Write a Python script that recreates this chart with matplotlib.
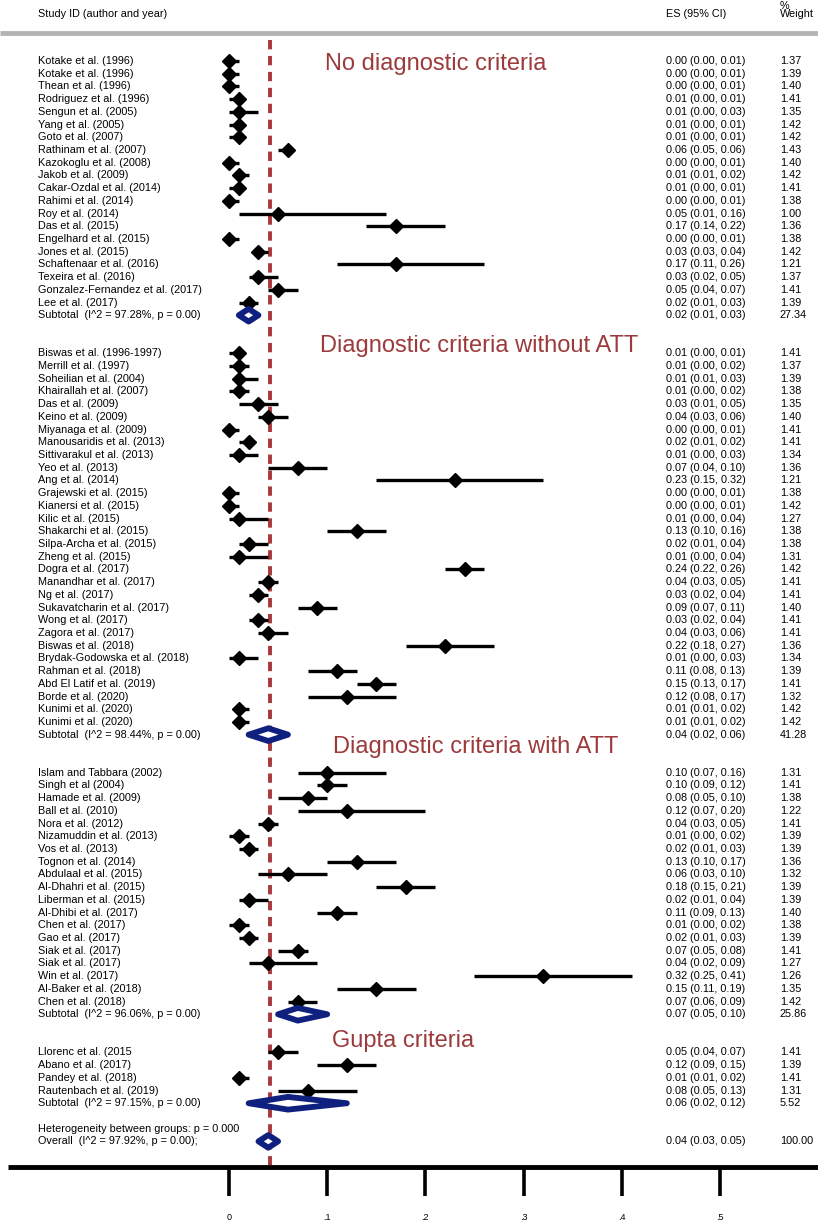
import matplotlib.pyplot as plt
from matplotlib.patches import Polygon

plt.rcParams['font.family'] = ['Liberation Sans', 'DejaVu Sans']

# -----------------------------
# Study data per subgroup
# -----------------------------

g1_names = ["Kotake et al. (1996)", "Kotake et al. (1996)", "Thean et al. (1996)",
            "Rodriguez et al. (1996)", "Sengun et al. (2005)", "Yang et al. (2005)",
            "Goto et al. (2007)", "Rathinam et al. (2007)", "Kazokoglu et al. (2008)",
            "Jakob et al. (2009)", "Cakar-Ozdal et al. (2014)", "Rahimi et al. (2014)",
            "Roy et al. (2014)", "Das et al. (2015)", "Engelhard et al. (2015)",
            "Jones et al. (2015)", "Schaftenaar et al. (2016)", "Texeira et al. (2016)",
            "Gonzalez-Fernandez et al. (2017)", "Lee et al. (2017)"]
g1_es = [0.00, 0.00, 0.00, 0.01, 0.01, 0.01, 0.01, 0.06, 0.00, 0.01,
         0.01, 0.00, 0.05, 0.17, 0.00, 0.03, 0.17, 0.03, 0.05, 0.02]
g1_lo = [0.00, 0.00, 0.00, 0.00, 0.00, 0.00, 0.00, 0.05, 0.00, 0.01,
         0.00, 0.00, 0.01, 0.14, 0.00, 0.03, 0.11, 0.02, 0.04, 0.01]
g1_hi = [0.01, 0.01, 0.01, 0.01, 0.03, 0.01, 0.01, 0.06, 0.01, 0.02,
         0.01, 0.01, 0.16, 0.22, 0.01, 0.04, 0.26, 0.05, 0.07, 0.03]
g1_wt = [1.37, 1.39, 1.40, 1.41, 1.35, 1.42, 1.42, 1.43, 1.40, 1.42,
         1.41, 1.38, 1.00, 1.36, 1.38, 1.42, 1.21, 1.37, 1.41, 1.39]

g2_names = ["Biswas et al. (1996-1997)", "Merrill et al. (1997)", "Soheilian et al. (2004)",
            "Khairallah et al. (2007)", "Das et al. (2009)", "Keino et al. (2009)",
            "Miyanaga et al. (2009)", "Manousaridis et al. (2013)", "Sittivarakul et al. (2013)",
            "Yeo et al. (2013)", "Ang et al. (2014)", "Grajewski et al. (2015)",
            "Kianersi et al. (2015)", "Kilic et al. (2015)", "Shakarchi et al. (2015)",
            "Silpa-Archa et al. (2015)", "Zheng et al. (2015)", "Dogra et al. (2017)",
            "Manandhar et al. (2017)", "Ng et al. (2017)", "Sukavatcharin et al. (2017)",
            "Wong et al. (2017)", "Zagora et al. (2017)", "Biswas et al. (2018)",
            "Brydak-Godowska et al. (2018)", "Rahman et al. (2018)", "Abd El Latif et al. (2019)",
            "Borde et al. (2020)", "Kunimi et al. (2020)", "Kunimi et al. (2020)"]
g2_es = [0.01, 0.01, 0.01, 0.01, 0.03, 0.04, 0.00, 0.02, 0.01, 0.07,
         0.23, 0.00, 0.00, 0.01, 0.13, 0.02, 0.01, 0.24, 0.04, 0.03,
         0.09, 0.03, 0.04, 0.22, 0.01, 0.11, 0.15, 0.12, 0.01, 0.01]
g2_lo = [0.00, 0.00, 0.01, 0.00, 0.01, 0.03, 0.00, 0.01, 0.00, 0.04,
         0.15, 0.00, 0.00, 0.00, 0.10, 0.01, 0.00, 0.22, 0.03, 0.02,
         0.07, 0.02, 0.03, 0.18, 0.00, 0.08, 0.13, 0.08, 0.01, 0.01]
g2_hi = [0.01, 0.02, 0.03, 0.02, 0.05, 0.06, 0.01, 0.02, 0.03, 0.10,
         0.32, 0.01, 0.01, 0.04, 0.16, 0.04, 0.04, 0.26, 0.05, 0.04,
         0.11, 0.04, 0.06, 0.27, 0.03, 0.13, 0.17, 0.17, 0.02, 0.02]
g2_wt = [1.41, 1.37, 1.39, 1.38, 1.35, 1.40, 1.41, 1.41, 1.34, 1.36,
         1.21, 1.38, 1.42, 1.27, 1.38, 1.38, 1.31, 1.42, 1.41, 1.41,
         1.40, 1.41, 1.41, 1.36, 1.34, 1.39, 1.41, 1.32, 1.42, 1.42]

g3_names = ["Islam and Tabbara (2002)", "Singh et al (2004)", "Hamade et al. (2009)",
            "Ball et al. (2010)", "Nora et al. (2012)", "Nizamuddin et al. (2013)",
            "Vos et al. (2013)", "Tognon et al. (2014)", "Abdulaal et al. (2015)",
            "Al-Dhahri et al. (2015)", "Liberman et al. (2015)", "Al-Dhibi et al. (2017)",
            "Chen et al. (2017)", "Gao et al. (2017)", "Siak et al. (2017)",
            "Siak et al. (2017)", "Win et al. (2017)", "Al-Baker et al. (2018)",
            "Chen et al. (2018)"]
g3_es = [0.10, 0.10, 0.08, 0.12, 0.04, 0.01, 0.02, 0.13, 0.06, 0.18,
         0.02, 0.11, 0.01, 0.02, 0.07, 0.04, 0.32, 0.15, 0.07]
g3_lo = [0.07, 0.09, 0.05, 0.07, 0.03, 0.00, 0.01, 0.10, 0.03, 0.15,
         0.01, 0.09, 0.00, 0.01, 0.05, 0.02, 0.25, 0.11, 0.06]
g3_hi = [0.16, 0.12, 0.10, 0.20, 0.05, 0.02, 0.03, 0.17, 0.10, 0.21,
         0.04, 0.13, 0.02, 0.03, 0.08, 0.09, 0.41, 0.19, 0.09]
g3_wt = [1.31, 1.41, 1.38, 1.22, 1.41, 1.39, 1.39, 1.36, 1.32, 1.39,
         1.39, 1.40, 1.38, 1.39, 1.41, 1.27, 1.26, 1.35, 1.42]

g4_names = ["Llorenc et al. (2015", "Abano et al. (2017)", "Pandey et al. (2018)",
            "Rautenbach et al. (2019)"]
g4_es = [0.05, 0.12, 0.01, 0.08]
g4_lo = [0.04, 0.09, 0.01, 0.05]
g4_hi = [0.07, 0.15, 0.02, 0.13]
g4_wt = [1.41, 1.39, 1.41, 1.31]

group_titles = ["No diagnostic criteria", "Diagnostic criteria without ATT",
                "Diagnostic criteria with ATT", "Gupta criteria"]
sub_i2 = [97.28, 98.44, 96.06, 97.15]
sub_es = [0.02, 0.04, 0.07, 0.06]
sub_lo = [0.01, 0.02, 0.05, 0.02]
sub_hi = [0.03, 0.06, 0.10, 0.12]
sub_wt = [27.34, 41.28, 25.86, 5.52]

overall_i2 = 97.92
overall_es, overall_lo, overall_hi = 0.04, 0.03, 0.05
het_p = 0.000

x_ticks = [0, 0.1, 0.2, 0.3, 0.4, 0.5]
x_tick_labels = ["0", ".1", ".2", ".3", ".4", ".5"]

groups = [(g1_names, g1_es, g1_lo, g1_hi, g1_wt),
          (g2_names, g2_es, g2_lo, g2_hi, g2_wt),
          (g3_names, g3_es, g3_lo, g3_hi, g3_wt),
          (g4_names, g4_es, g4_lo, g4_hi, g4_wt)]

# -----------------------------
# Figure setup (x = effect size, y = row index)
# -----------------------------

fig = plt.figure(figsize=(8.18, 12.24), dpi=100)
ax = fig.add_axes([0, 0, 1, 1])
ax.set_xlim(-0.2332, 0.5998)
ax.set_ylim(91.5, -4.8)
ax.axis('off')

x_label = -0.1945
x_es = 0.445
x_wt = 0.561
fs = 7.8
title_color = '#9c3a3c'
navy = '#10207f'
# where each subgroup heading sits (x in effect units, row offset from first study)
title_x = [0.0978, 0.0926, 0.1059, 0.105]
title_dy = [0.25, -0.6, -2.0, -0.9]


def ci_text(es, lo, hi):
    return f"{es:.2f} ({lo:.2f}, {hi:.2f})"


def sub_diamond(es, lo, hi, y, h=0.5):
    pts = [(lo, y), (es, y - h), (hi, y), (es, y + h)]
    ax.add_patch(Polygon(pts, closed=True, facecolor='white', edgecolor=navy,
                         linewidth=4.2, joinstyle='round', zorder=4))


# header
ax.text(x_label, -3.7, "Study ID (author and year)", fontsize=fs, va='center')
ax.text(x_es, -3.7, "ES (95% CI)", fontsize=fs, va='center')
ax.text(x_wt, -4.35, "%", fontsize=fs, va='center')
ax.text(x_wt, -3.7, "Weight", fontsize=fs, va='center')
ax.plot([-0.2332, 0.5998], [-2.2, -2.2], color='#b4b4b4', lw=3.5, solid_capstyle='butt')

row = 0
for gi, (names, es, lo, hi, wt) in enumerate(groups):
    ax.text(title_x[gi], row + title_dy[gi], group_titles[gi], fontsize=17,
            color=title_color, va='center')
    for n, e, l, h, w in zip(names, es, lo, hi, wt):
        ax.plot([l, h], [row, row], color='black', lw=2.4, solid_capstyle='butt', zorder=3)
        ax.plot(e, row, marker='D', color='black', markersize=6.8, zorder=4)
        ax.text(x_label, row, n, fontsize=fs, va='center')
        ax.text(x_es, row, ci_text(e, l, h), fontsize=fs, va='center')
        ax.text(x_wt, row, f"{w:.2f}", fontsize=fs, va='center')
        row += 1
    sub_diamond(sub_es[gi], sub_lo[gi], sub_hi[gi], row)
    ax.text(x_label, row, f"Subtotal  (I^2 = {sub_i2[gi]:.2f}%, p = 0.00)", fontsize=fs, va='center')
    ax.text(x_es, row, ci_text(sub_es[gi], sub_lo[gi], sub_hi[gi]), fontsize=fs, va='center')
    ax.text(x_wt, row, f"{sub_wt[gi]:.2f}", fontsize=fs, va='center')
    row += 3

# heterogeneity and overall
row -= 1
ax.text(x_label, row, f"Heterogeneity between groups: p = {het_p:.3f}", fontsize=fs, va='center')
row += 1
sub_diamond(overall_es, overall_lo, overall_hi, row)
ax.text(x_label, row, f"Overall  (I^2 = {overall_i2:.2f}%, p = 0.00);", fontsize=fs, va='center')
ax.text(x_es, row, ci_text(overall_es, overall_lo, overall_hi), fontsize=fs, va='center')
ax.text(x_wt, row, "100.00", fontsize=fs, va='center')

# overall effect reference line
axis_y = 87.0
ax.plot([overall_es + 0.002, overall_es + 0.002], [-1.65, axis_y], color='#a8383c', lw=2.8,
        dashes=(2.4, 1.7), zorder=2)

# bottom axis with long ticks
ax.plot([-0.2252, 0.5998], [axis_y, axis_y], color='black', lw=3.5, solid_capstyle='butt')
for t, tl in zip(x_ticks, x_tick_labels):
    ax.plot([t, t], [axis_y, 89.3], color='black', lw=2.6, solid_capstyle='butt')
    ax.text(t, 91.0, tl, fontsize=6.5, ha='center', va='center')

fig.savefig('out.png', dpi=100)
